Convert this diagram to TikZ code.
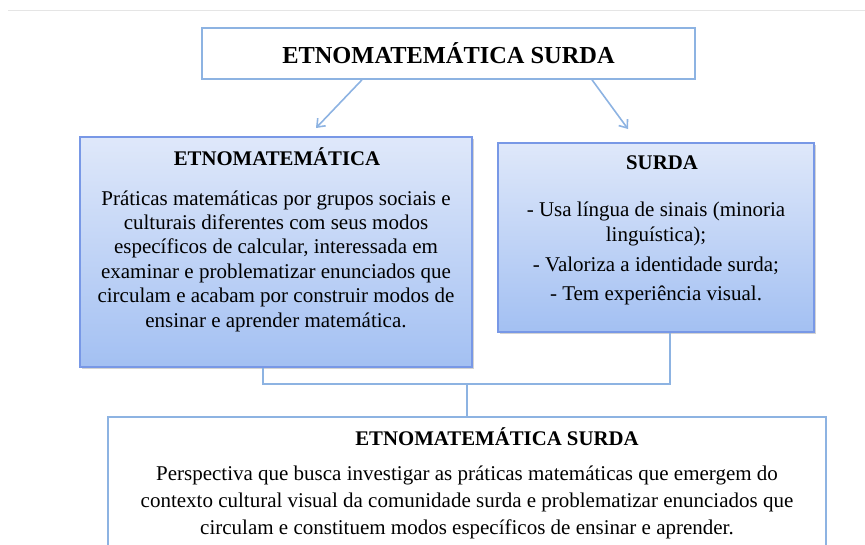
\documentclass[tikz,border=0pt]{standalone}
\usepackage{fontspec}
\setmainfont{Liberation Serif}
\usetikzlibrary{arrows.meta,positioning,shadows}
\definecolor{boxline}{HTML}{8DB3E2}
\definecolor{boxtop}{HTML}{DFE8FA}
\definecolor{boxbottom}{HTML}{A3C0F2}
\tikzset{
  plain box/.style={draw=boxline, line width=1.6pt, fill=white, inner sep=0pt},
  shaded box/.style={draw=boxline!85!blue, line width=1.2pt, top color=boxtop, bottom color=boxbottom,
    drop shadow={shadow xshift=2pt, shadow yshift=-2pt, opacity=0.35}, inner sep=0pt},
  link/.style={draw=boxline, line width=1.6pt},
  arrow/.style={link, -{Straight Barb[length=7pt,width=11pt]}},
  title text/.style={font=\bfseries\fontsize{20.8}{24}\selectfont},
  body text/.style={font=\fontsize{21}{24.4}\selectfont, align=center},
}

\begin{document}
\begin{tikzpicture}[x=1pt,y=-1pt]
  \useasboundingbox (0,0) rectangle (865,544);
  \clip (0,0) rectangle (865,544);

  % page edge
  \draw[black!10, line width=0.8pt] (8,10) -- (865,10);

  % Boxes
  \node[plain box, minimum width=493pt, minimum height=51pt] (main) at (448.5,53.5) {};
  \node[shaded box, minimum width=392pt, minimum height=230pt] (etno) at (276,252) {};
  \node[shaded box, minimum width=316pt, minimum height=189pt] (surda) at (656,237.5) {};
  \node[plain box, minimum width=718pt, minimum height=150pt] (result) at (467,492) {};

  % Texts
  \node[font=\bfseries\fontsize{24.4}{28}\selectfont] (mainlabel) at (main.center) {ETNOMATEMÁTICA SURDA};
  \node[title text] (etnotitle) at (277,157) {ETNOMATEMÁTICA};
  \node[body text] (etnobody) at (276,261) {Práticas matemáticas por grupos sociais e\\
    culturais diferentes com seus modos\\
    específicos de calcular, interessada em\\
    examinar e problematizar enunciados que\\
    circulam e acabam por construir modos de\\
    ensinar e aprender matemática.};
  \node[title text] (surdatitle) at (662,163) {SURDA};
  \node[body text, font=\fontsize{21}{25}\selectfont] (surdabody) at (656,253) {- Usa língua de sinais (minoria\\
    linguística);\\[5pt]
    - Valoriza a identidade surda;\\[4pt]
    - Tem experiência visual.};
  \node[title text] (resulttitle) at (497,437) {ETNOMATEMÁTICA SURDA};
  \node[body text, font=\fontsize{21}{27}\selectfont] (resultbody) at (467,502) {Perspectiva que busca investigar as práticas matemáticas que emergem do\\
    contexto cultural visual da comunidade surda e problematizar enunciados que\\
    circulam e constituem modos específicos de ensinar e aprender.};

  % Arrows
  \coordinate (tipL) at (316,128);
  \coordinate (tipR) at (628,129);
  \draw[arrow] (main.south -| 362,0) -- (tipL);
  \draw[arrow] (main.south -| 592,0) -- (tipR);

  % Joining lines
  \coordinate (join) at (467,384);
  \draw[link] (etno.south -| 263,0) |- (join) -| (surda.south -| 670,0);
  \draw[link] (join) -- (result.north -| join);
\end{tikzpicture}
\end{document}
